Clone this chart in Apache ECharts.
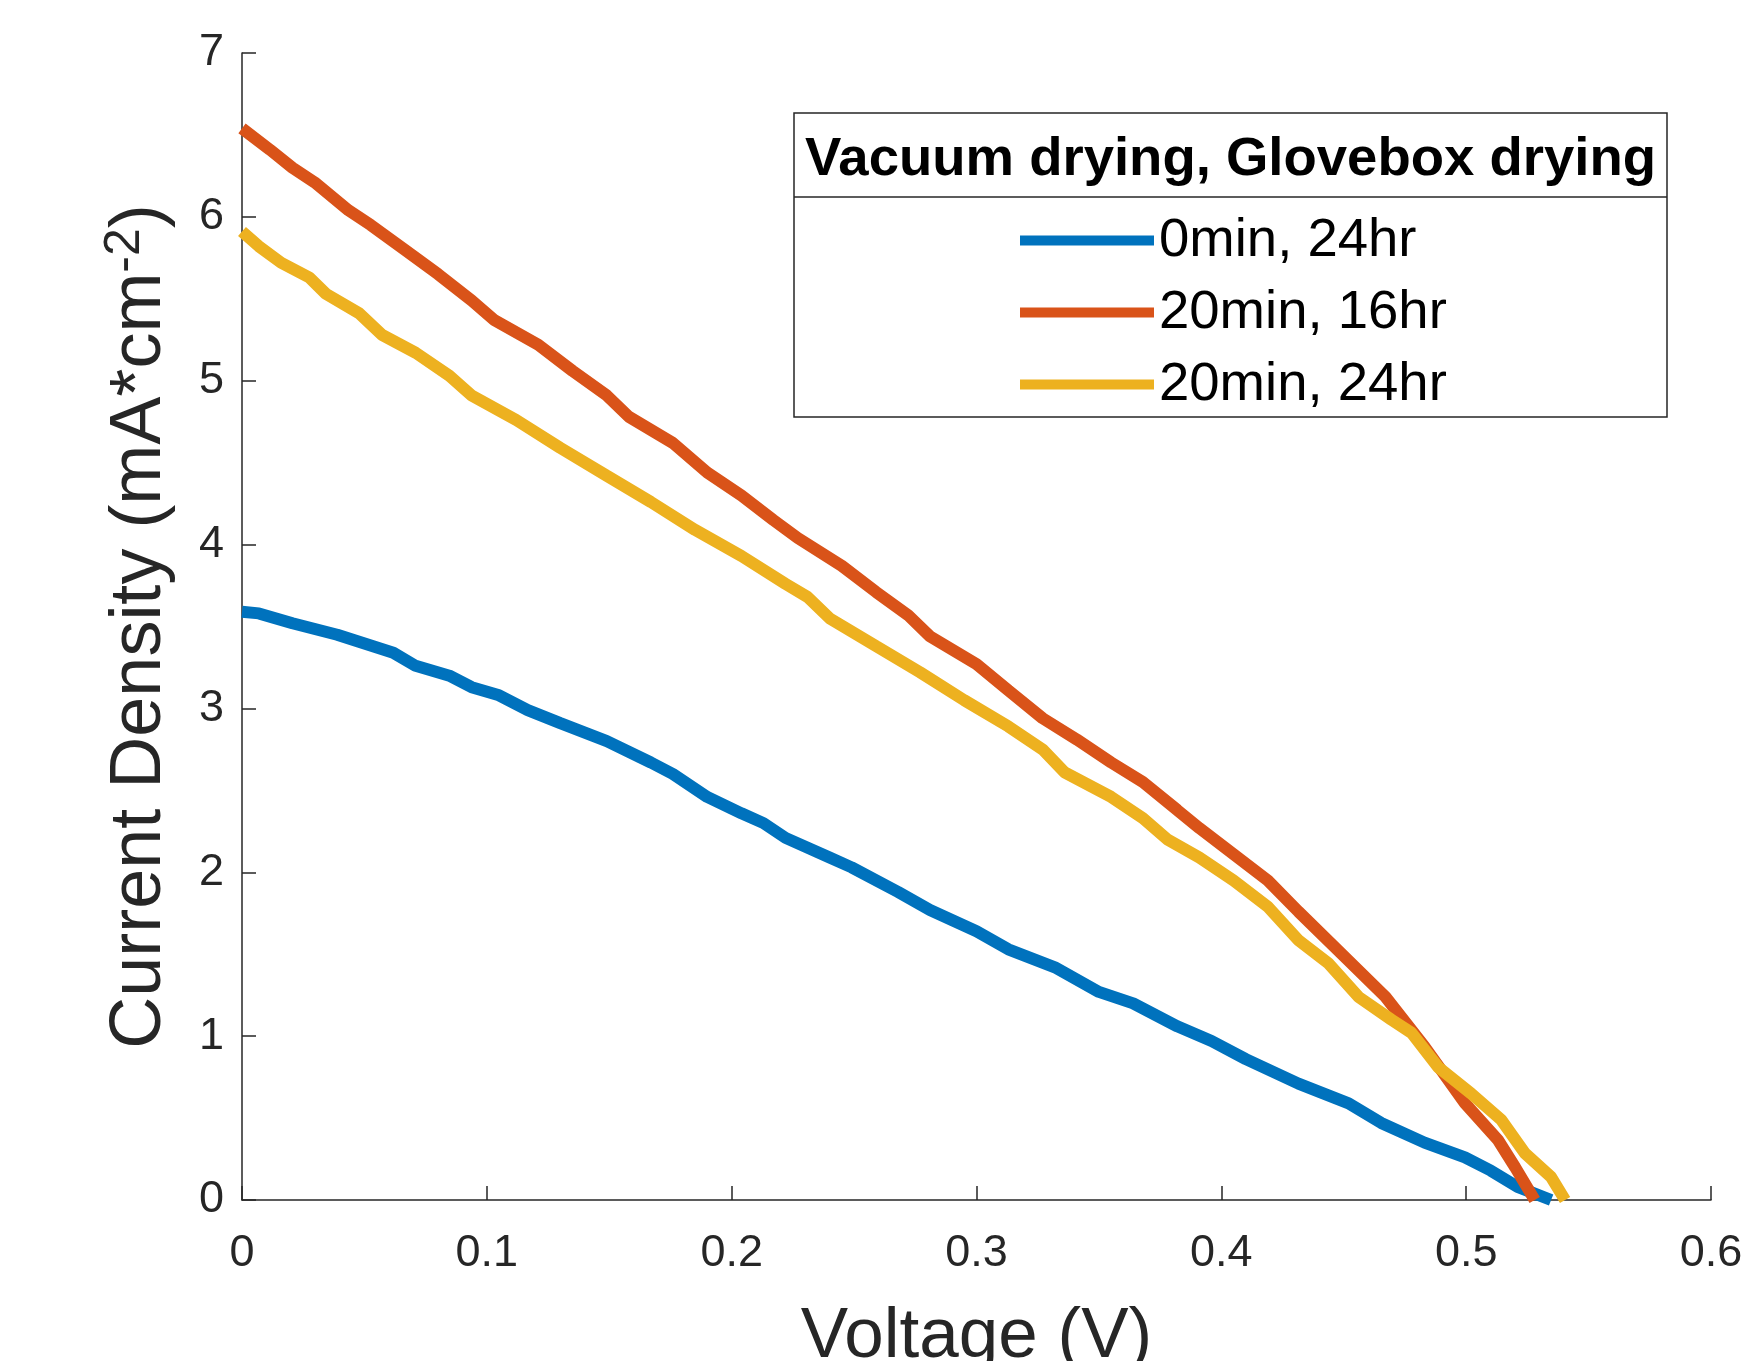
<!DOCTYPE html>
<html>
<head>
<meta charset="utf-8">
<script src="https://cdn.jsdelivr.net/npm/echarts@6/dist/echarts.min.js"></script>
<style>
  html, body { margin: 0; padding: 0; background: #fff; }
  #chart { width: 1758px; height: 1361px; }
</style>
</head>
<body>
<div id="chart"></div>
<script>
// values
const seriesNames = ['0min, 24hr', '20min, 16hr', '20min, 24hr'];
const seriesColors = ['#0072BD', '#D95319', '#EDB120'];

const voltage0 = [0, 0.0069, 0.0206, 0.0389, 0.0618, 0.0709, 0.0847, 0.0938, 0.105, 0.1167, 0.130, 0.149, 0.167, 0.176, 0.190, 0.204, 0.213, 0.222, 0.240, 0.249, 0.268, 0.281, 0.300, 0.313, 0.332, 0.350, 0.364, 0.382, 0.396, 0.410, 0.4315, 0.452, 0.4653, 0.483, 0.4995, 0.510, 0.521, 0.5347];
const current0 = [3.59, 3.58, 3.52, 3.45, 3.34, 3.26, 3.20, 3.13, 3.08, 2.99, 2.91, 2.80, 2.67, 2.60, 2.46, 2.36, 2.30, 2.21, 2.09, 2.03, 1.88, 1.77, 1.64, 1.53, 1.42, 1.27, 1.20, 1.06, 0.97, 0.86, 0.71, 0.59, 0.47, 0.35, 0.26, 0.18, 0.08, 0];

const voltage1 = [0, 0.0114, 0.0206, 0.0297, 0.0435, 0.0526, 0.0664, 0.0801, 0.0938, 0.103, 0.121, 0.135, 0.149, 0.158, 0.176, 0.190, 0.204, 0.217, 0.227, 0.245, 0.259, 0.272, 0.281, 0.300, 0.313, 0.327, 0.341, 0.355, 0.368, 0.382, 0.391, 0.405, 0.419, 0.4315, 0.452, 0.467, 0.483, 0.4995, 0.513, 0.520, 0.528];
const current1 = [6.54, 6.41, 6.30, 6.21, 6.04, 5.95, 5.80, 5.65, 5.49, 5.37, 5.22, 5.06, 4.91, 4.78, 4.62, 4.44, 4.30, 4.15, 4.04, 3.87, 3.71, 3.57, 3.44, 3.27, 3.11, 2.94, 2.81, 2.67, 2.55, 2.38, 2.27, 2.11, 1.95, 1.76, 1.46, 1.24, 0.935, 0.59, 0.366, 0.20, 0];

const voltage2 = [0, 0.0069, 0.0160, 0.0275, 0.0343, 0.048, 0.0572, 0.071, 0.0847, 0.0938, 0.112, 0.130, 0.149, 0.167, 0.185, 0.204, 0.222, 0.231, 0.240, 0.259, 0.277, 0.295, 0.313, 0.327, 0.336, 0.355, 0.368, 0.378, 0.391, 0.405, 0.419, 0.4315, 0.4437, 0.456, 0.4695, 0.4777, 0.4886, 0.502, 0.5143, 0.524, 0.5347, 0.5404];
const current2 = [5.91, 5.82, 5.72, 5.63, 5.53, 5.41, 5.28, 5.17, 5.03, 4.91, 4.76, 4.59, 4.42, 4.26, 4.09, 3.93, 3.76, 3.68, 3.55, 3.38, 3.22, 3.05, 2.89, 2.75, 2.61, 2.46, 2.33, 2.20, 2.09, 1.95, 1.79, 1.585, 1.445, 1.24, 1.10, 1.02, 0.81, 0.65, 0.49, 0.285, 0.14, 0];

const voltages = [voltage0, voltage1, voltage2];
const currents = [current0, current1, current2];

const axisColor = '#262626';
const fontFamily = '"Liberation Sans", Arial, Helvetica, sans-serif';

const chart = echarts.init(document.getElementById('chart'));

const option = {
  animation: false,
  grid: {
    left: 242,
    right: 47,
    top: 53,
    bottom: 161,
    containLabel: false,
    outerBoundsMode: 'none'
  },
  legend: {
    orient: 'vertical',
    left: 1015,
    top: 208,
    itemWidth: 134,
    itemHeight: 10,
    itemGap: 17,
    icon: 'rect',
    textStyle: {
      fontFamily: fontFamily,
      fontSize: 54.5,
      color: '#000'
    },
    data: seriesNames
  },
  graphic: [
    {
      type: 'rect',
      shape: { x: 794, y: 113, width: 873, height: 304 },
      style: { fill: '#fff', stroke: axisColor, lineWidth: 1.5 },
      z: 0
    },
    {
      type: 'line',
      shape: { x1: 794, y1: 197, x2: 1667, y2: 197 },
      style: { stroke: axisColor, lineWidth: 1.5 },
      z: 1
    },
    {
      type: 'text',
      left: 805,
      top: 132,
      style: {
        text: 'Vacuum drying, Glovebox drying',
        x: 0,
        y: 0,
        font: 'bold 54.5px ' + fontFamily,
        fill: '#000'
      },
      z: 2
    }
  ],
  xAxis: {
    type: 'value',
    min: 0,
    max: 0.6,
    interval: 0.1,
    name: 'Voltage (V)',
    nameLocation: 'middle',
    nameGap: 102,
    nameTextStyle: {
      fontFamily: fontFamily,
      fontSize: 71,
      color: axisColor
    },
    axisLine: { lineStyle: { color: axisColor, width: 1.5 } },
    axisTick: { inside: true, length: 14, lineStyle: { color: axisColor, width: 1.5 } },
    splitLine: { show: false },
    axisLabel: {
      margin: 31,
      fontFamily: fontFamily,
      fontSize: 45,
      color: axisColor
    }
  },
  yAxis: {
    type: 'value',
    min: 0,
    max: 7,
    interval: 1,
    name: '{a|Current Density (mA*cm}{s|-2}{a|)}',
    nameLocation: 'middle',
    nameGap: 62,
    nameTextStyle: {
      fontFamily: fontFamily,
      color: axisColor,
      rich: {
        a: { fontFamily: fontFamily, fontSize: 72, color: axisColor },
        s: { fontFamily: fontFamily, fontSize: 50, color: axisColor, verticalAlign: 'top', padding: [0, 0, 30, 0] }
      }
    },
    axisLine: { show: true, lineStyle: { color: axisColor, width: 1.5 } },
    axisTick: { show: true, inside: true, length: 14, lineStyle: { color: axisColor, width: 1.5 } },
    splitLine: { show: false },
    axisLabel: {
      margin: 18,
      fontFamily: fontFamily,
      fontSize: 45,
      color: axisColor
    }
  },
  series: seriesNames.map((name, i) => ({
    name: name,
    type: 'line',
    showSymbol: false,
    symbol: 'none',
    smooth: false,
    z: 3,
    lineStyle: { color: seriesColors[i], width: 12 },
    itemStyle: { color: seriesColors[i] },
    data: voltages[i].map((v, k) => [v, currents[i][k]])
  }))
};

chart.setOption(option);
</script>
</body>
</html>
